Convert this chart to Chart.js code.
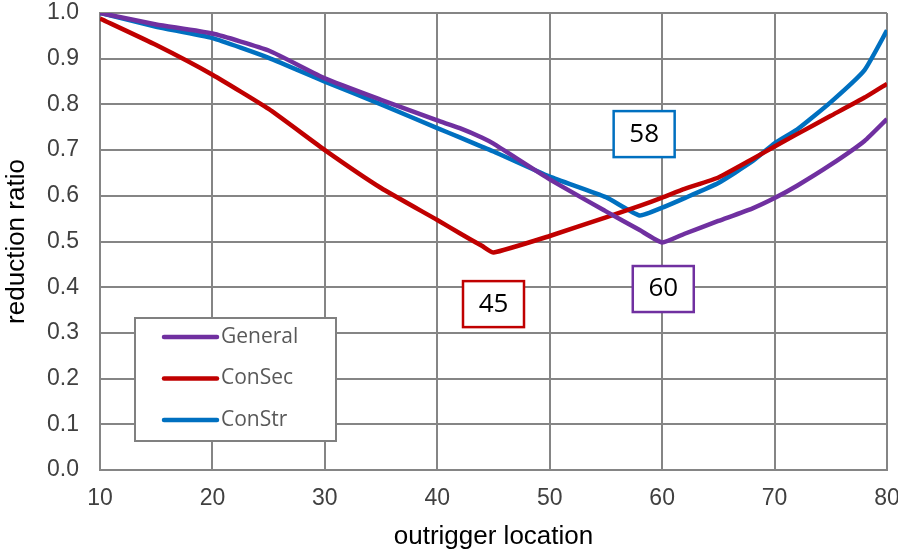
<!DOCTYPE html>
<html>
<head>
<meta charset="utf-8">
<script src="https://cdn.jsdelivr.net/npm/chart.js@4.4.1/dist/chart.umd.min.js"></script>
<style>
  html, body { margin: 0; padding: 0; background: #fff; }
  #wrap { width: 898px; height: 552px; }
</style>
</head>
<body>
<div id="wrap"><canvas id="c" width="898" height="552"></canvas></div>
<script>
// outrigger location (x values)
const locations = [10, 15, 20, 25, 30, 35, 40, 42, 44, 45, 50, 55, 58, 60, 62, 65, 68, 70, 72, 75, 78, 80];

const general = [1.0, 0.975, 0.955, 0.918, 0.857, 0.81, 0.765, 0.748, 0.727, 0.714, 0.636, 0.566, 0.525, 0.498, 0.517, 0.545, 0.572, 0.595, 0.622, 0.668, 0.72, 0.768];
const conSec = [0.988, 0.93, 0.865, 0.79, 0.70, 0.617, 0.547, 0.518, 0.49, 0.476, 0.512, 0.553, 0.578, 0.596, 0.615, 0.64, 0.68, 0.708, 0.735, 0.775, 0.815, 0.845];
const conStr = [1.0, 0.97, 0.945, 0.902, 0.85, 0.80, 0.748, 0.728, 0.707, 0.697, 0.642, 0.597, 0.557, 0.574, 0.595, 0.628, 0.675, 0.715, 0.745, 0.805, 0.875, 0.962];

const seriesNames = ["General", "ConSec", "ConStr"];
const colors = ["#7030A0", "#C00000", "#0070C0"];

// optimum location labels
const optimumLabels = ["58", "45", "60"];

function toPoints(ys) {
  return locations.map((x, i) => ({ x: x, y: ys[i] }));
}

// label boxes, placed in data units
const boxSpots = [
  { x: 58.4, y: 0.735, color: colors[2] },
  { x: 45.0, y: 0.363, color: colors[1] },
  { x: 60.1, y: 0.396, color: colors[0] },
];

// no automatic overhang padding, the layout padding decides
function noPad(scale) {
  scale.paddingTop = 0;
  scale.paddingBottom = 0;
  scale.paddingLeft = 0;
  scale.paddingRight = 0;
}

const boxesPlugin = {
  id: "boxes",
  afterDatasetsDraw(chart) {
    const ctx = chart.ctx;
    const xs = chart.scales.x, ys = chart.scales.y;
    const area = chart.chartArea;
    ctx.save();

    // legend box
    const lx = area.left + 35, ly = area.bottom - 152;
    ctx.fillStyle = "#fff";
    ctx.fillRect(lx, ly, 201, 123);
    ctx.strokeStyle = "#808080";
    ctx.lineWidth = 2;
    ctx.strokeRect(lx, ly, 201, 123);
    ctx.font = "21px 'Open Sans'";
    ctx.textBaseline = "middle";
    ctx.textAlign = "left";
    chart.data.datasets.forEach((ds, i) => {
      const yy = ly + 19 + i * 41.5;
      ctx.strokeStyle = ds.borderColor;
      ctx.lineWidth = 4.5;
      ctx.lineCap = "round";
      ctx.beginPath();
      ctx.moveTo(lx + 29, yy);
      ctx.lineTo(lx + 82, yy);
      ctx.stroke();
      ctx.fillStyle = "#595959";
      ctx.fillText(ds.label, lx + 86, yy);
    });

    // optimum boxes
    ctx.font = "26px 'Open Sans'";
    ctx.textAlign = "center";
    boxSpots.forEach((b, i) => {
      const cx = xs.getPixelForValue(b.x), cy = ys.getPixelForValue(b.y);
      const w = 61, h = 46;
      ctx.fillStyle = "#fff";
      ctx.fillRect(cx - w / 2, cy - h / 2, w, h);
      ctx.strokeStyle = b.color;
      ctx.lineWidth = 2.5;
      ctx.strokeRect(cx - w / 2, cy - h / 2, w, h);
      ctx.fillStyle = "#000";
      ctx.fillText(optimumLabels[i], cx, cy);
    });
    ctx.restore();
  },
};

new Chart(document.getElementById("c"), {
  type: "line",
  data: {
    datasets: seriesNames.map((name, i) => ({
      label: name,
      data: toPoints([general, conSec, conStr][i]),
      borderColor: colors[i],
      backgroundColor: colors[i],
      borderWidth: 4.5,
      pointRadius: 0,
      tension: 0.15,
      fill: false,
    })),
  },
  options: {
    responsive: false,
    animation: false,
    layout: { padding: { top: 13, right: 11, left: 0, bottom: 0 } },
    plugins: { legend: { display: false }, tooltip: { enabled: false } },
    scales: {
      x: {
        type: "linear",
        min: 10,
        max: 80,
        afterFit(scale) { scale.height = 82; noPad(scale); },
        ticks: {
          stepSize: 10,
          padding: 15,
          color: "#404040",
          font: { family: "Liberation Sans", size: 23 },
          maxRotation: 0,
        },
        grid: { color: "#858585", lineWidth: 2, drawTicks: false },
        border: { color: "#858585", width: 2 },
        title: {
          display: true,
          text: "outrigger location",
          color: "#000",
          font: { family: "Liberation Sans", size: 26 },
          padding: { top: 0, bottom: 0 },
        },
      },
      y: {
        min: 0,
        max: 1,
        afterFit(scale) { scale.width = 100; noPad(scale); },
        ticks: {
          stepSize: 0.1,
          padding: 21,
          color: "#404040",
          font: { family: "Liberation Sans", size: 23 },
          callback: (v) => v.toFixed(1),
        },
        grid: { color: "#858585", lineWidth: 2, drawTicks: false },
        border: { color: "#858585", width: 2 },
        title: {
          display: true,
          text: "reduction ratio",
          color: "#000",
          font: { family: "Liberation Sans", size: 26 },
          padding: { top: 1, bottom: 0 },
        },
      },
    },
  },
  plugins: [boxesPlugin],
});
</script>
</body>
</html>
